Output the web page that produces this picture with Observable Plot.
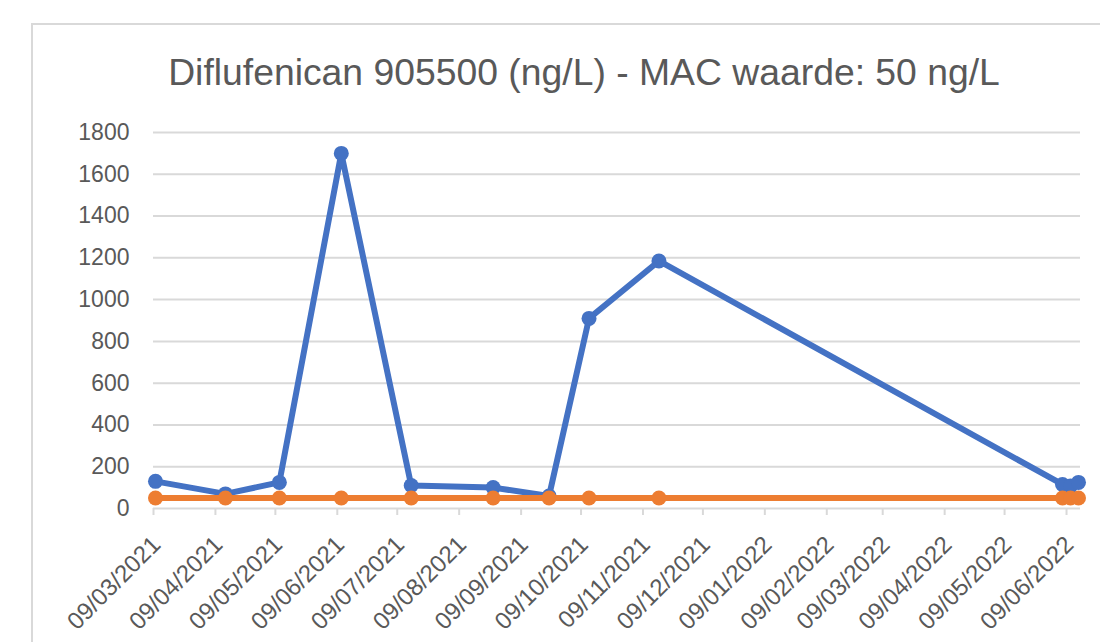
<!DOCTYPE html>
<html>
<head>
<meta charset="utf-8">
<script src="https://cdn.jsdelivr.net/npm/d3@7"></script>
<script src="https://cdn.jsdelivr.net/npm/@observablehq/plot@0.6"></script>
<style>
  html, body { margin: 0; padding: 0; background: #fff; overflow: hidden; }
  #wrap { position: relative; width: 1100px; height: 642px; overflow: hidden; }
  #frame { position: absolute; left: 31px; top: 23px; width: 1200px; height: 1000px;
           border: 2px solid #d9d9d9; box-sizing: border-box; pointer-events: none; }
  #title { position: absolute; left: 0; top: 0; white-space: nowrap; color: #595959;
           font-family: "Liberation Sans", Arial, sans-serif; }
  #chart { position: absolute; left: 0; top: 0; }
  #chart svg { font-family: "Liberation Sans", Arial, sans-serif; }
</style>
</head>
<body>
<div id="wrap">
  <div id="frame"></div>
  <div id="chart"></div>
  <span id="title"></span>
</div>
<script>
// ---- data ----
const titleText = "Diflufenican 905500 (ng/L) - MAC waarde: 50 ng/L";
const sampleDates = ["2021-03-10","2021-04-14","2021-05-11","2021-06-11","2021-07-16","2021-08-26",
                     "2021-09-23","2021-10-13","2021-11-17","2022-06-07","2022-06-11","2022-06-15"];
const measured = [130, 70, 125, 1700, 110, 100, 60, 910, 1185, 115, 108, 125];
const macValue = [50, 50, 50, 50, 50, 50, 50, 50, 50, 50, 50, 50];
const yTicks = [0, 200, 400, 600, 800, 1000, 1200, 1400, 1600, 1800];
const xTickLabels = ["09/03/2021","09/04/2021","09/05/2021","09/06/2021","09/07/2021","09/08/2021",
                     "09/09/2021","09/10/2021","09/11/2021","09/12/2021","09/01/2022","09/02/2022",
                     "09/03/2022","09/04/2022","09/05/2022","09/06/2022"];
const xDomain = ["2021-03-09", "2022-06-16"];

// ---- build ----
const parse = d3.utcParse("%Y-%m-%d");
const parseLabel = d3.utcParse("%d/%m/%Y");
const blue = sampleDates.map((d, i) => ({date: parse(d), value: measured[i]}));
const orange = sampleDates.map((d, i) => ({date: parse(d), value: macValue[i]}));
const xTicks = xTickLabels.map(s => ({date: parseLabel(s), label: s}));

const chart = Plot.plot({
  width: 1100,
  height: 642,
  marginLeft: 153,
  marginRight: 20,
  marginTop: 132,
  marginBottom: 134,
  x: {type: "utc", domain: xDomain.map(parse), axis: null, label: null},
  y: {domain: [0, 1800], axis: null, label: null},
  marks: [
    Plot.ruleY(yTicks, {stroke: "#d9d9d9", strokeWidth: 2}),
    Plot.axisX(xTicks.map(d => d.date), {tickSize: 7, tickFormat: () => "", label: null, stroke: "#d9d9d9", strokeWidth: 2, color: "#d9d9d9"}),
    Plot.axisY(yTicks, {tickSize: 0, tickPadding: 24, fontSize: 23, label: null, color: "#595959", tickFormat: d => String(d)}),
    Plot.text(xTicks, {x: "date", text: "label", frameAnchor: "bottom", rotate: -45,
                       textAnchor: "end", lineAnchor: "middle", dx: 3, dy: 32,
                       fontSize: 24, fill: "#595959"}),
    Plot.line(blue, {x: "date", y: "value", stroke: "#4472C4", strokeWidth: 6}),
    Plot.dot(blue, {x: "date", y: "value", fill: "#4472C4", r: 7.5}),
    Plot.line(orange, {x: "date", y: "value", stroke: "#ED7D31", strokeWidth: 6}),
    Plot.dot(orange, {x: "date", y: "value", fill: "#ED7D31", r: 7.5})
  ]
});
document.getElementById("chart").appendChild(chart);

// title: fit to the reference's width and centre
const t = document.getElementById("title");
t.textContent = titleText;
t.style.fontSize = "40px";
const w0 = t.getBoundingClientRect().width;
const size = 40 * 832 / w0;
t.style.fontSize = size + "px";
const r = t.getBoundingClientRect();
t.style.left = (584 - r.width / 2) + "px";
t.style.top = (72 - r.height / 2) + "px";
</script>
</body>
</html>
